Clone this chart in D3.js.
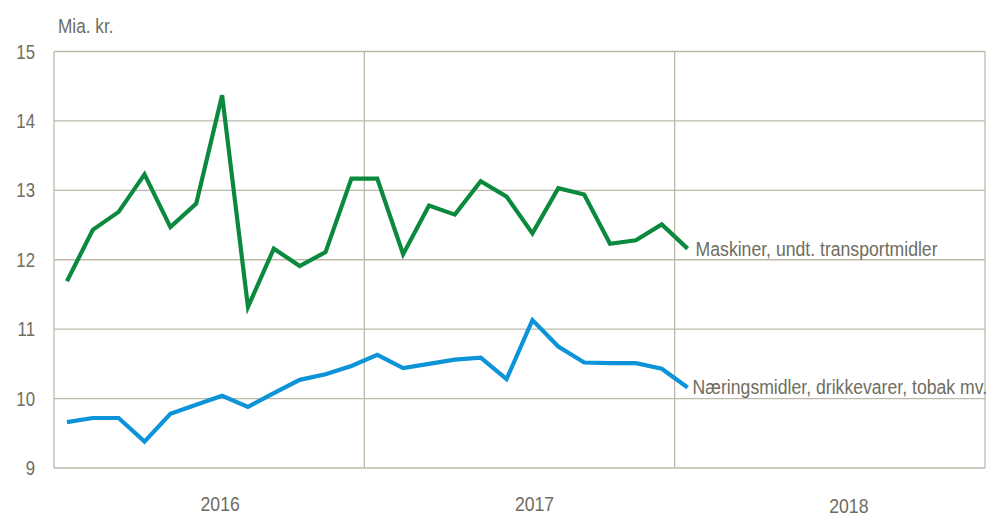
<!DOCTYPE html>
<html>
<head>
<meta charset="utf-8">
<script src="https://cdn.jsdelivr.net/npm/d3@7"></script>
<style>
  html, body { margin: 0; padding: 0; background: #ffffff; }
  svg { display: block; }
  text { font-family: "Liberation Sans", Arial, sans-serif; fill: #6f6d5f; }
</style>
</head>
<body>
<svg id="chart" width="989" height="516"></svg>
<script>
// Data: monthly values, Jan 2016 – Jan 2018 (Mia. kr.)
const monthLabels = ["2016-01","2016-02","2016-03","2016-04","2016-05","2016-06","2016-07","2016-08","2016-09","2016-10","2016-11","2016-12",
                     "2017-01","2017-02","2017-03","2017-04","2017-05","2017-06","2017-07","2017-08","2017-09","2017-10","2017-11","2017-12",
                     "2018-01"];
const maskiner = [11.69, 12.43, 12.69, 13.23, 12.47, 12.81, 14.37, 11.32, 12.16, 11.91, 12.11, 13.17,
                  13.17, 12.08, 12.78, 12.65, 13.13, 12.91, 12.38, 13.03, 12.94, 12.23, 12.28, 12.51,
                  12.16];
const naering = [9.66, 9.72, 9.72, 9.38, 9.78, 9.91, 10.04, 9.88, 10.08, 10.27, 10.35, 10.47,
                 10.63, 10.44, 10.50, 10.56, 10.59, 10.28, 11.13, 10.75, 10.52, 10.51, 10.51, 10.43,
                 10.16];
const seriesNames = ["Maskiner, undt. transportmidler", "Næringsmidler, drikkevarer, tobak mv."];
const yTicks = [9, 10, 11, 12, 13, 14, 15];
const years = ["2016", "2017", "2018"];
const unitLabel = "Mia. kr.";

(function () {
const svg = d3.select("#chart");
const mLeft = 54, mRight = 985, mTop = 51.5, mBottom = 468;
const narrow = 0.84; // horizontal condensing of text (narrow typeface look)

const x = d3.scaleLinear().domain([0, years.length * 12]).range([mLeft, mRight]);
const y = d3.scaleLinear().domain([9, 15]).range([mBottom, mTop]);
const gridColor = "#bdbaac";
const tr = (tx, ty) => `translate(${tx},${ty}) scale(${narrow},1)`;

// horizontal gridlines
svg.append("g").selectAll("line").data(yTicks).join("line")
  .attr("x1", mLeft).attr("x2", mRight)
  .attr("y1", d => y(d)).attr("y2", d => y(d))
  .attr("stroke", gridColor).attr("stroke-width", 1.3);

// vertical year boundaries incl. left and right edges
const bounds = d3.range(0, years.length + 1).map(i => i * 12);
svg.append("g").selectAll("line").data(bounds).join("line")
  .attr("x1", d => x(d)).attr("x2", d => x(d))
  .attr("y1", mTop).attr("y2", mBottom)
  .attr("stroke", gridColor).attr("stroke-width", 1.3);

// y tick labels
svg.append("g").selectAll("text").data(yTicks).join("text")
  .attr("transform", d => tr(35, y(d) + 7))
  .attr("text-anchor", "end")
  .attr("font-size", 20)
  .text(d => d);

// unit label
svg.append("text").attr("transform", tr(58, 33)).attr("font-size", 20.5).text(unitLabel);

// year labels
svg.append("g").selectAll("text").data(years).join("text")
  .attr("transform", (d, i) => tr(x(i * 12 + 6) + 11 + i * 4, 511 + (i === 2 ? 2 : 0)))
  .attr("text-anchor", "middle")
  .attr("font-size", 21)
  .text(d => d);

const line = d3.line().x((d, i) => x(i + 0.5)).y(d => y(d));

const series = [
  { name: seriesNames[0], values: maskiner, color: "#0b8a3e", dx: 8 },
  { name: seriesNames[1], values: naering, color: "#0c93d8", dx: 5 }
];

series.forEach(s => {
  svg.append("path").datum(s.values)
    .attr("d", line)
    .attr("fill", "none")
    .attr("stroke", s.color)
    .attr("stroke-width", 4.2)
    .attr("stroke-linejoin", "miter");
  const n = s.values.length;
  svg.append("text")
    .attr("transform", tr(x(n - 0.5) + s.dx, y(s.values[n - 1]) + 7))
    .attr("font-size", 21)
    .text(s.name);
});
})();
</script>
</body>
</html>
